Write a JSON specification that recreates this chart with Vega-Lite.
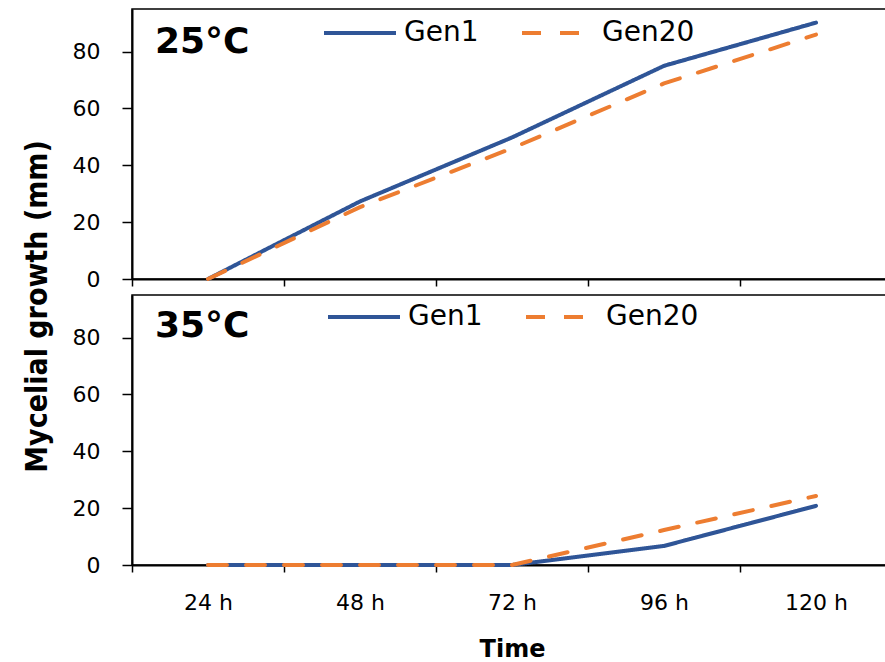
{
  "$schema": "https://vega.github.io/schema/vega-lite/v6.json",
  "padding": {"left": 21, "top": -6, "right": 0, "bottom": 0},
  "background": "white",
  "data": {"values": [
    {"temp": "25°C", "gen": "Gen1", "time": "24 h", "growth": 0},
    {"temp": "25°C", "gen": "Gen1", "time": "48 h", "growth": 27.3},
    {"temp": "25°C", "gen": "Gen1", "time": "72 h", "growth": 49.8},
    {"temp": "25°C", "gen": "Gen1", "time": "96 h", "growth": 75},
    {"temp": "25°C", "gen": "Gen1", "time": "120 h", "growth": 90.2},
    {"temp": "25°C", "gen": "Gen20", "time": "24 h", "growth": 0},
    {"temp": "25°C", "gen": "Gen20", "time": "48 h", "growth": 25.3},
    {"temp": "25°C", "gen": "Gen20", "time": "72 h", "growth": 46},
    {"temp": "25°C", "gen": "Gen20", "time": "96 h", "growth": 68.8},
    {"temp": "25°C", "gen": "Gen20", "time": "120 h", "growth": 86},
    {"temp": "35°C", "gen": "Gen1", "time": "24 h", "growth": 0},
    {"temp": "35°C", "gen": "Gen1", "time": "48 h", "growth": 0},
    {"temp": "35°C", "gen": "Gen1", "time": "72 h", "growth": 0},
    {"temp": "35°C", "gen": "Gen1", "time": "96 h", "growth": 6.7},
    {"temp": "35°C", "gen": "Gen1", "time": "120 h", "growth": 20.8},
    {"temp": "35°C", "gen": "Gen20", "time": "24 h", "growth": 0},
    {"temp": "35°C", "gen": "Gen20", "time": "48 h", "growth": 0},
    {"temp": "35°C", "gen": "Gen20", "time": "72 h", "growth": 0},
    {"temp": "35°C", "gen": "Gen20", "time": "96 h", "growth": 12.3},
    {"temp": "35°C", "gen": "Gen20", "time": "120 h", "growth": 24.3}
  ]},
  "bounds": "flush",
  "spacing": 16,
  "resolve": {
    "scale": {"color": "independent", "strokeDash": "independent"},
    "legend": {"color": "independent", "strokeDash": "independent"}
  },
  "vconcat": [
    {
      "width": 760,
      "height": 270,
      "layer": [
        {
          "transform": [{"filter": "datum.temp === '25°C'"}],
          "mark": {"type": "line", "strokeWidth": 4, "strokeCap": "round", "strokeJoin": "round"},
          "encoding": {
            "x": {"field": "time", "type": "nominal", "sort": null,
                  "scale": {"type": "band", "domain": ["24 h", "48 h", "72 h", "96 h", "120 h"], "paddingInner": 0, "paddingOuter": 0},
                  "axis": {"labels": false, "title": null, "tickBand": "extent", "tickSize": 7}},
            "y": {"field": "growth", "type": "quantitative",
                  "scale": {"domain": [0, 95], "nice": false},
                  "axis": {"values": [0, 20, 40, 60, 80], "title": "Mycelial growth (mm)",
                           "titleX": -86, "titleY": 297, "titleAngle": -90, "titleBaseline": "alphabetic", "titleAlign": "center",
                           "titleFont": "DejaVu Sans Condensed, Liberation Sans", "titleFontSize": 30, "titleFontWeight": "bold"}},
            "color": {"field": "gen", "type": "nominal",
                      "scale": {"domain": ["Gen1", "Gen20"], "range": ["#2F5597", "#ED7D31"]},
                      "legend": {"orient": "none", "legendX": 190, "legendY": -14, "direction": "horizontal", "title": null}},
            "strokeDash": {"field": "gen", "type": "nominal",
                      "scale": {"domain": ["Gen1", "Gen20"], "range": [[1, 0], [19, 19]]},
                      "legend": {"orient": "none", "legendX": 190, "legendY": -14, "direction": "horizontal", "title": null}}
          }
        },
        {
          "data": {"values": [{"panel": "25°C"}]},
          "mark": {"type": "text", "align": "left", "baseline": "alphabetic", "dx": -53, "dy": 44,
                   "font": "DejaVu Sans", "fontSize": 36, "fontWeight": "bold", "color": "black"},
          "encoding": {
            "x": {"datum": "24 h"},
            "y": {"datum": 95},
            "text": {"field": "panel"}
          }
        }
      ]
    },
    {
      "width": 760,
      "height": 270,
      "layer": [
        {
          "transform": [{"filter": "datum.temp === '35°C'"}],
          "mark": {"type": "line", "strokeWidth": 4, "strokeCap": "round", "strokeJoin": "round"},
          "encoding": {
            "x": {"field": "time", "type": "nominal", "sort": null,
                  "scale": {"type": "band", "domain": ["24 h", "48 h", "72 h", "96 h", "120 h"], "paddingInner": 0, "paddingOuter": 0},
                  "axis": {"title": "Time", "tickBand": "extent", "tickSize": 7, "labelPadding": 20, "labelAngle": 0,
                           "titleFontSize": 24, "titleFontWeight": "bold", "titlePadding": 24}},
            "y": {"field": "growth", "type": "quantitative",
                  "scale": {"domain": [0, 95], "nice": false},
                  "axis": {"values": [0, 20, 40, 60, 80], "title": null}},
            "color": {"field": "gen", "type": "nominal",
                      "scale": {"domain": ["Gen1", "Gen20"], "range": ["#2F5597", "#ED7D31"]},
                      "legend": {"orient": "none", "legendX": 194, "legendY": -16, "direction": "horizontal", "title": null}},
            "strokeDash": {"field": "gen", "type": "nominal",
                      "scale": {"domain": ["Gen1", "Gen20"], "range": [[1, 0], [19, 19]]},
                      "legend": {"orient": "none", "legendX": 194, "legendY": -16, "direction": "horizontal", "title": null}}
          }
        },
        {
          "data": {"values": [{"panel": "35°C"}]},
          "mark": {"type": "text", "align": "left", "baseline": "alphabetic", "dx": -53, "dy": 42,
                   "font": "DejaVu Sans", "fontSize": 36, "fontWeight": "bold", "color": "black"},
          "encoding": {
            "x": {"datum": "24 h"},
            "y": {"datum": 95},
            "text": {"field": "panel"}
          }
        }
      ]
    }
  ],
  "config": {
    "font": "DejaVu Sans",
    "view": {"stroke": "#000", "strokeWidth": 1.5},
    "axis": {
      "grid": false,
      "domainColor": "#000", "domainWidth": 2,
      "tickColor": "#000", "tickWidth": 1.5,
      "labelFont": "DejaVu Sans", "labelFontSize": 22, "labelColor": "#000",
      "titleFont": "DejaVu Sans", "titleColor": "#000"
    },
    "axisY": {"tickSize": 10, "labelPadding": 22},
    "legend": {
      "symbolType": "stroke", "symbolSize": 5184, "symbolStrokeWidth": 4,
      "labelFont": "DejaVu Sans", "labelFontSize": 28, "labelColor": "#000", "labelOffset": 6,
      "columnPadding": 35, "padding": 0
    }
  }
}
